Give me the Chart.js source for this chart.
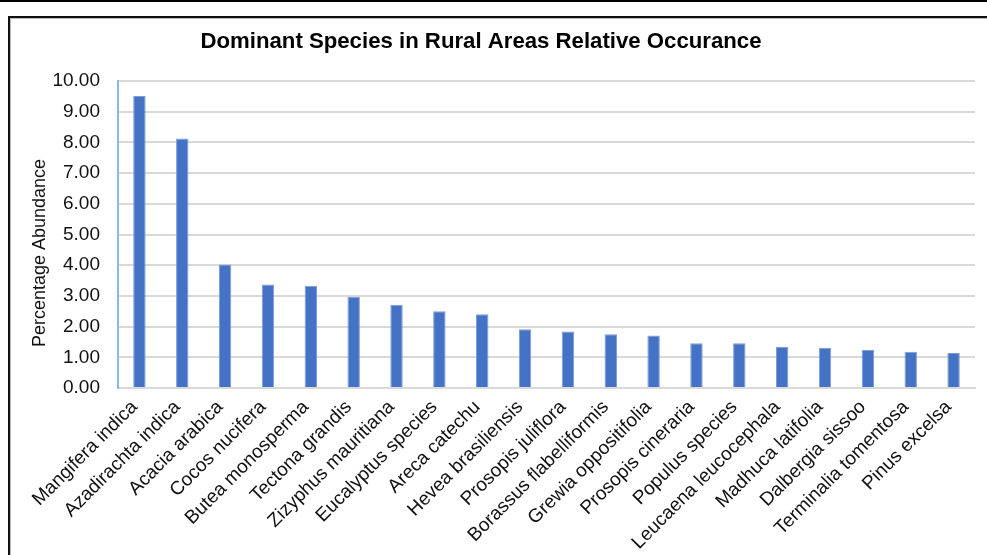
<!DOCTYPE html>
<html>
<head>
<meta charset="utf-8">
<script src="https://cdn.jsdelivr.net/npm/chart.js@4/dist/chart.umd.min.js"></script>
<style>
  html, body { margin: 0; padding: 0; background: #fff; width: 987px; height: 555px; overflow: hidden; }
  #topbar { position: absolute; left: 0; top: 0; width: 1010px; height: 2px; background: #000; }
  #frame { position: absolute; left: 8px; top: 16px; width: 1000px; height: 560px;
           border-left: 2px solid #111; border-top: 2px solid #111; box-sizing: border-box;
           box-shadow: inset 1px 1px 0 #bdbdbd; overflow: hidden; }
  #wrap { position: absolute; left: 0; top: 0; width: 977px; height: 537px; }
</style>
</head>
<body>
<div id="topbar"></div>
<div id="frame"><div id="wrap"><canvas id="c" width="977" height="537"></canvas></div></div>
<script>
// Species and their relative occurrence (% abundance) in rural areas
const species = [
  'Mangifera indica', 'Azadirachta indica', 'Acacia arabica', 'Cocos nucifera',
  'Butea monosperma', 'Tectona grandis', 'Zizyphus mauritiana', 'Eucalyptus species',
  'Areca catechu', 'Hevea brasiliensis', 'Prosopis juliflora', 'Borassus flabelliformis',
  'Grewia oppositifolia', 'Prosopis cineraria', 'Populus species', 'Leucaena leucocephala',
  'Madhuca latifolia', 'Dalbergia sissoo', 'Terminalia tomentosa', 'Pinus excelsa'
];
const abundance = [
  9.51, 8.13, 4.02, 3.37,
  3.33, 2.97, 2.71, 2.50,
  2.40, 1.91, 1.84, 1.75,
  1.71, 1.46, 1.46, 1.34,
  1.31, 1.24, 1.18, 1.14
];
const yMin = 0, yMax = 10, yStep = 1;

const chartTitle = 'Dominant Species in Rural Areas Relative Occurance';
const yAxisTitle = 'Percentage Abundance';

const FONT = '"Liberation Sans", Arial, sans-serif';

// Title and vertical axis caption, positioned relative to the canvas
const captions = {
  id: 'captions',
  afterDraw(chart) {
    const ctx = chart.ctx;
    ctx.save();
    ctx.fillStyle = '#000';
    ctx.textAlign = 'center';
    ctx.textBaseline = 'middle';
    ctx.font = 'bold 22.2px ' + FONT;
    ctx.fillText(chartTitle, 471, 24);
    ctx.translate(30, 235);
    ctx.rotate(-Math.PI / 2);
    ctx.font = '18px ' + FONT;
    ctx.fillStyle = '#111';
    ctx.fillText(yAxisTitle, 0, 0);
    ctx.restore();
  }
};

new Chart(document.getElementById('c'), {
  type: 'bar',
  data: {
    labels: species,
    datasets: [{
      data: abundance,
      backgroundColor: '#4472c4',
      borderColor: '#7d9bd6',
      borderWidth: 1,
      barPercentage: 0.29,
      categoryPercentage: 1.0
    }]
  },
  options: {
    responsive: false,
    animation: false,
    devicePixelRatio: 1,
    layout: { padding: { top: 63, right: 12, left: 0, bottom: 0 } },
    plugins: {
      legend: { display: false },
      title: { display: false },
      tooltip: { enabled: false }
    },
    scales: {
      x: {
        grid: { display: false, drawTicks: false },
        border: { display: true, color: '#d9d9d9', width: 2 },
        ticks: {
          autoSkip: false,
          maxRotation: 45,
          minRotation: 45,
          padding: 8,
          labelOffset: -5,
          color: '#111',
          font: { family: FONT, size: 19 }
        },
        afterFit(scale) { scale.height = 167; }
      },
      y: {
        min: yMin,
        max: yMax,
        grid: { color: '#d9d9d9', lineWidth: 2, drawTicks: false },
        border: { display: true, color: '#8cb9e3', width: 2 },
        ticks: {
          stepSize: yStep,
          padding: 18,
          color: '#111',
          font: { family: FONT, size: 19 },
          callback: v => Number(v).toFixed(2)
        },
        afterFit(scale) { scale.width = 108; }
      }
    }
  },
  plugins: [captions]
});
</script>
</body>
</html>
